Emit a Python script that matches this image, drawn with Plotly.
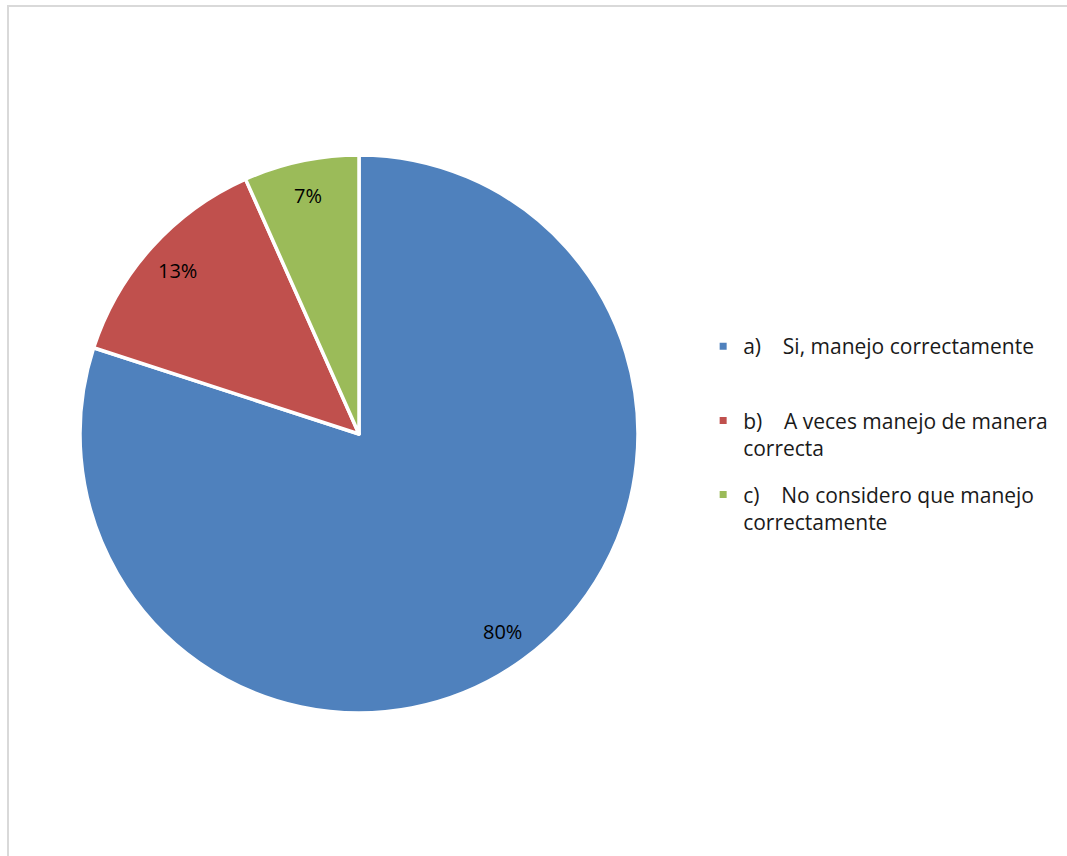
import math
import plotly.graph_objects as go

categories = ["a)\u00a0\u00a0\u00a0\u00a0Si, manejo correctamente",
              "b)\u00a0\u00a0\u00a0\u00a0A veces manejo de manera<br>correcta",
              "c)\u00a0\u00a0\u00a0\u00a0No considero que manejo<br>correctamente"]
values = [24, 4, 2]
colors = ["#4F81BD", "#C0504D", "#9BBB59"]

W, H = 1067, 856
cx, cy, r = 359, 434, 279
FONT = "Open Sans"

fig = go.Figure()
fig.add_trace(go.Pie(
    labels=categories, values=values, sort=False, direction="clockwise", rotation=0,
    marker=dict(colors=colors, line=dict(color="white", width=3.5)),
    textinfo="none", showlegend=False, hoverinfo="label+percent",
    domain=dict(x=[(cx - r) / W, (cx + r) / W], y=[(H - cy - r) / H, (H - cy + r) / H]),
))

# percentage labels placed near the outer part of each slice (Excel "best fit" look)
total = sum(values)
cum = 0
for v in values:
    mid = (cum + v / 2) / total * 2 * math.pi
    cum += v
    rl = 0.875 * r
    px = cx + rl * math.sin(mid)
    py = cy - rl * math.cos(mid)
    fig.add_annotation(x=px / W, y=1 - py / H, xref="paper", yref="paper",
                       xanchor="center", yanchor="middle",
                       text=f"{round(100 * v / total)}%", showarrow=False,
                       font=dict(family=FONT, size=20, color="black"))

for i, (name, col) in enumerate(zip(categories, colors)):
    label = name if "<br>" in name else name + "<br>\u00a0"
    fig.add_trace(go.Scatter(
        x=[None], y=[None], mode="markers", name=label, legendgroup=f"g{i}",
        marker=dict(symbol="square", size=7, color=col),
    ))

fig.update_layout(
    width=W, height=H, margin=dict(l=0, r=0, t=0, b=0),
    paper_bgcolor="white", plot_bgcolor="white",
    xaxis=dict(visible=False), yaxis=dict(visible=False),
    legend=dict(x=0.659, y=0.619, xanchor="left", yanchor="top", valign="top",
                tracegroupgap=16.5, font=dict(family=FONT, size=21, color="#1a1a1a"),
                bgcolor="rgba(0,0,0,0)"),
    shapes=[dict(type="rect", xref="paper", yref="paper", x0=8 / W, x1=1.05,
                 y0=-0.05, y1=1 - 6 / H, line=dict(color="#D9D9D9", width=2))],
)
fig.write_html("out.html", config={"displayModeBar": False},
               post_script="document.body.style.margin='0';")
